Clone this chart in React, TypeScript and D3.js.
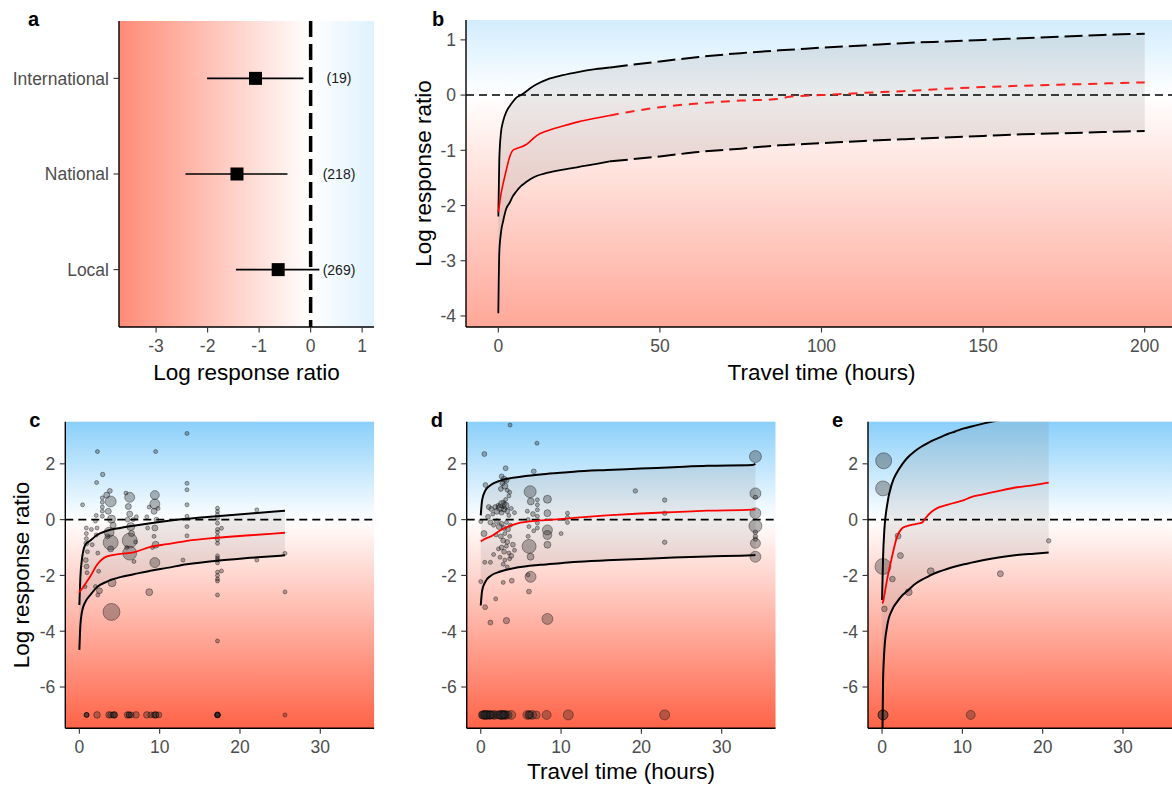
import React from 'react';
import * as d3 from 'd3';

const W = 1172;
const H = 787;
const FONT = "'Liberation Sans', Arial, Helvetica, sans-serif";

// ---------- Panel a: effect by scale ----------
const regionCats = ['International', 'National', 'Local'];
const regionMean = [-1.07, -1.43, -0.63];
const regionLow = [-2.01, -2.43, -1.45];
const regionHigh = [-0.14, -0.45, 0.17];
const regionN = ['(19)', '(218)', '(269)'];
const aXTicks = [-3, -2, -1, 0, 1];

// ---------- Panel b: full model prediction ----------
const bTime = [0, 0.3, 0.8, 1.5, 2.5, 3.5, 4.5, 5.5, 7, 8.5, 10, 12, 15, 20, 25, 30, 34.5, 40, 50, 62, 75, 87, 90, 100, 113, 125, 137, 150, 162, 175, 187, 200];
const bUpper = [-2.2, -1.17, -0.69, -0.47, -0.3, -0.2, -0.12, -0.05, 0.0, 0.06, 0.13, 0.2, 0.28, 0.36, 0.42, 0.47, 0.5, 0.54, 0.61, 0.69, 0.76, 0.81, 0.82, 0.86, 0.9, 0.94, 0.97, 1.0, 1.03, 1.06, 1.09, 1.11];
const bMean = [-2.12, -2.0, -1.8, -1.6, -1.35, -1.12, -1.0, -0.97, -0.94, -0.9, -0.83, -0.73, -0.65, -0.56, -0.48, -0.42, -0.37, -0.31, -0.22, -0.15, -0.1, -0.07, -0.03, 0.0, 0.04, 0.07, 0.11, 0.145, 0.17, 0.19, 0.21, 0.23];
const bLower = [-3.95, -2.86, -2.5, -2.28, -2.05, -1.95, -1.83, -1.75, -1.65, -1.58, -1.52, -1.46, -1.41, -1.35, -1.3, -1.25, -1.2, -1.17, -1.11, -1.03, -0.97, -0.91, -0.9, -0.87, -0.83, -0.8, -0.77, -0.74, -0.71, -0.69, -0.67, -0.65];
const bObservedMax = 34.5;
const bXTicks = [0, 50, 100, 150, 200];
const bYTicks = [-4, -3, -2, -1, 0, 1];

// ---------- Panels c, d, e ----------
const sXTicks = [0, 10, 20, 30];
const sYTicks = [-6, -4, -2, 0, 2];

const cTime = [0, 0.12, 0.33, 0.75, 1.37, 2.2, 3.44, 5.1, 6.76, 8.84, 10.9, 13.4, 17.1, 21.3, 25.6];
const cUpper = [-3.06, -2.1, -1.4, -0.9, -0.75, -0.55, -0.4, -0.3, -0.22, -0.13, -0.05, 0.03, 0.12, 0.22, 0.32];
const cMean = [-2.62, -2.55, -2.48, -2.3, -2.03, -1.62, -1.32, -1.23, -1.17, -0.98, -0.88, -0.76, -0.65, -0.56, -0.47];
const cLower = [-4.67, -3.83, -3.3, -2.95, -2.7, -2.42, -2.22, -2.06, -1.96, -1.83, -1.73, -1.6, -1.47, -1.37, -1.28];
// [travel time, log response ratio, weight]
const cStudies: [number, number, number][] = [
  [0.4, 0.53, 4], [2.25, 2.44, 4], [2.15, 1.33, 4], [2.9, 1.62, 5], [3.8, 1.03, 6], [3.9, 0.65, 30],
  [2.86, 0.78, 4], [2.86, 0.62, 4], [2.86, 0.45, 4], [2.86, 0.3, 4], [2.86, 0.12, 4], [3.4, 0.88, 9],
  [3.6, 0.3, 9], [4.0, 0.02, 16], [4.2, -0.2, 9], [3.7, -0.45, 25], [3.9, -0.82, 56], [3.9, -1.05, 9],
  [3.5, -0.6, 6], [2.1, 0.15, 4], [2.0, -0.05, 4], [2.2, -0.3, 4], [2.1, -0.55, 4], [2.3, -1.2, 4],
  [2.4, -1.85, 4], [2.5, -2.55, 9], [2.3, -2.7, 4], [2.0, -2.4, 4], [0.87, -0.3, 4], [0.87, -0.5, 4],
  [0.87, -0.68, 4], [0.87, -0.85, 6], [0.8, -1.45, 6], [0.9, -1.68, 6], [0.95, -1.9, 4], [1.0, -1.15, 4],
  [0.7, -2.4, 4], [1.5, -0.35, 4], [1.6, -0.9, 4], [6.27, 0.8, 25], [6.1, 0.47, 9], [6.27, 0.2, 9],
  [6.0, 0.0, 6], [6.4, -0.25, 16], [6.27, -0.75, 56], [6.27, -1.2, 49], [6.5, -0.5, 9], [6.7, 0.0, 4],
  [5.8, 0.95, 4], [5.9, -1.0, 4], [7.0, -0.8, 4], [6.8, -1.5, 4], [7.1, 0.1, 4], [8.7, 0.45, 4],
  [8.4, 0.1, 4], [8.5, -0.3, 4], [8.7, -2.6, 12], [9.4, 0.88, 20], [9.4, 0.56, 25], [9.3, 0.3, 9],
  [9.6, 0.0, 6], [9.4, -0.3, 9], [9.5, -0.9, 12], [9.4, -1.54, 25], [9.5, 2.44, 4], [9.3, -0.6, 4],
  [9.8, 0.4, 4], [9.1, -1.0, 4], [13.4, 3.09, 4], [13.4, 1.3, 4], [13.4, 1.07, 4], [13.4, 0.53, 4],
  [13.4, 0.12, 4], [13.4, -0.25, 4], [13.4, -0.58, 4], [12.9, -1.45, 4],
  [17.2, 0.41, 4], [17.2, 0.29, 4], [17.2, 0.18, 4], [17.2, 0.05, 4], [17.2, -0.13, 4], [17.2, -0.35, 4],
  [17.2, -0.45, 4], [17.2, -0.6, 4], [17.2, -0.72, 4], [17.2, -0.85, 4], [17.2, -1.3, 4], [17.2, -1.38, 4],
  [17.2, -1.45, 4], [17.2, -1.55, 4], [17.2, -1.88, 4], [17.2, -2.0, 4], [17.2, -2.13, 4], [17.2, -2.2, 4],
  [17.2, -2.7, 4], [17.2, -4.35, 4], [17.7, -0.31, 4], [17.7, -1.84, 4], [22.1, 0.35, 4], [22.1, -1.45, 4],
  [25.6, -1.21, 4], [25.6, -2.59, 4], [4.0, -3.31, 72], [4.07, -2.26, 16],
  [0.9, -7, 6], [0.9, -7, 6], [0.9, -7, 6], [2.2, -7, 11], [3.7, -7, 11], [3.9, -7, 9], [4.35, -7, 11],
  [4.35, -7, 9], [4.2, -7, 9], [6.0, -7, 11], [6.2, -7, 9], [6.2, -7, 9], [6.45, -7, 9], [7.05, -7, 11],
  [8.4, -7, 11], [8.9, -7, 9], [9.3, -7, 9], [9.5, -7, 11], [9.5, -7, 9], [9.9, -7, 9], [17.2, -7, 9],
  [17.2, -7, 8], [17.2, -7, 6], [17.2, -7, 6], [17.2, -7, 6], [25.6, -7, 4],
];

const dTime = [0, 0.17, 0.58, 1.2, 2.45, 4.5, 7.4, 9.9, 11.6, 15.7, 19.9, 24, 28.2, 33.8, 34.2];
const dUpper = [0.15, 0.7, 1.05, 1.23, 1.4, 1.52, 1.62, 1.68, 1.72, 1.78, 1.83, 1.88, 1.93, 1.96, 2.0];
const dMean = [-0.78, -0.75, -0.68, -0.61, -0.38, -0.14, -0.03, 0.02, 0.06, 0.15, 0.22, 0.27, 0.32, 0.36, 0.37];
const dLower = [-3.08, -2.55, -2.22, -2.02, -1.86, -1.72, -1.62, -1.56, -1.52, -1.46, -1.41, -1.36, -1.32, -1.28, -1.27];
const dStudies: [number, number, number][] = [
  [3.65, 3.39, 4], [7.0, 2.74, 4], [0.45, 2.35, 6], [3.1, 1.84, 6], [6.6, 1.73, 6], [0.58, 1.24, 6],
  [2.6, 1.55, 6], [2.9, 1.45, 9], [3.2, 1.4, 6], [2.7, 1.3, 6], [3.0, 1.2, 9], [2.5, 1.1, 6],
  [3.3, 1.05, 4], [3.6, 0.98, 4], [3.5, 0.85, 4], [3.1, 0.72, 4], [2.8, 0.6, 4],
  [1.0, 0.45, 6], [1.3, 0.38, 6], [0.9, 0.1, 6], [1.5, 0.2, 4], [1.8, 0.45, 6], [2.0, 0.3, 9],
  [2.2, 0.5, 6], [2.4, 0.42, 12], [2.6, 0.25, 6], [2.7, 0.55, 16], [2.9, 0.38, 9], [3.1, 0.5, 12],
  [3.3, 0.3, 6], [3.5, 0.15, 4], [3.8, 0.4, 4], [4.2, 0.25, 4], [1.2, -0.1, 6], [1.6, -0.2, 4],
  [2.0, -0.05, 6], [2.3, -0.25, 9], [2.6, -0.15, 6], [2.9, -0.3, 6], [3.2, -0.1, 4], [3.4, -0.35, 6],
  [3.7, -0.2, 4], [1.9, -0.55, 4], [2.5, -0.6, 6], [2.8, -0.75, 6], [3.0, -0.5, 4], [3.3, -0.8, 6],
  [3.6, -0.6, 4], [4.0, -0.9, 6], [2.2, -1.05, 4], [2.6, -1.0, 6], [2.9, -1.15, 6], [3.2, -0.95, 4],
  [3.5, -1.2, 4], [1.6, -1.25, 4], [2.4, -1.35, 4], [3.0, -1.45, 4], [3.6, -1.4, 4], [2.8, -1.6, 4],
  [3.3, -1.7, 4], [3.8, -1.3, 6], [4.2, -1.1, 4], [0.4, -0.5, 9], [0.0, -0.07, 4], [0.5, -1.53, 4],
  [1.2, -1.53, 4], [0.0, -2.22, 4], [2.8, -2.25, 4], [3.86, -2.19, 6], [5.9, -1.98, 4], [1.86, -2.84, 4],
  [0.55, -3.14, 6], [1.2, -3.69, 6], [3.2, -3.62, 10], [6.0, -2.58, 6], [6.2, -2.05, 30], [8.3, -3.56, 30],
  [6.15, 1.0, 36], [6.23, 0.65, 12], [7.05, 0.71, 4], [7.05, 0.53, 4], [7.05, 0.35, 4], [7.05, 0.12, 4],
  [7.05, -0.12, 4], [7.05, -0.3, 4], [5.8, 0.3, 4], [5.9, 0.0, 4], [6.0, -0.25, 4], [6.5, 0.2, 6],
  [6.6, -0.4, 4], [6.02, -0.96, 49], [6.2, -1.33, 12], [5.9, -0.6, 4], [8.3, 0.73, 16], [8.3, 0.23, 12],
  [8.3, -0.37, 25], [8.3, -0.55, 20], [8.3, -0.9, 12], [10.0, -0.5, 4], [10.8, 0.23, 4], [10.8, 0.08, 4],
  [10.8, -0.1, 4], [19.25, 1.03, 5], [22.9, 0.7, 5], [22.9, 0.23, 5], [22.9, -0.81, 5],
  [34.2, 2.26, 36], [34.2, 0.94, 30], [34.2, 0.8, 5], [34.2, 0.23, 30], [34.2, -0.23, 42], [34.2, -0.45, 5],
  [34.2, -0.6, 5], [34.2, -0.7, 5], [34.2, -0.85, 25], [34.2, -1.33, 30],
  [0.2, -7, 16], [0.45, -7, 20], [0.7, -7, 16], [1.0, -7, 20], [1.3, -7, 16], [1.7, -7, 20],
  [2.1, -7, 16], [2.5, -7, 20], [2.8, -7, 16], [3.1, -7, 20], [3.4, -7, 16], [3.8, -7, 20],
  [0.5, -7, 16], [1.1, -7, 16], [2.7, -7, 16], [3.0, -7, 16], [0.3, -7, 16], [0.8, -7, 16],
  [1.5, -7, 16], [2.3, -7, 16], [2.9, -7, 16], [0.6, -7, 20], [1.2, -7, 16], [2.6, -7, 20],
  [5.8, -7, 20], [6.1, -7, 16], [6.0, -7, 16], [6.4, -7, 20], [6.9, -7, 16], [8.2, -7, 20],
  [10.9, -7, 25], [22.9, -7, 25],
];

const eTime = [0, 0.12, 0.29, 0.62, 1.24, 1.87, 2.5, 3.1, 4.15, 4.98, 5.4, 6.2, 7.05, 8.1, 9.1, 10.2, 11, 12.7, 14.7, 16.8, 18.9, 20.75];
const eUpper = [-2.88, -1.4, -0.35, 0.5, 1.3, 1.7, 1.98, 2.2, 2.47, 2.63, 2.7, 2.82, 2.93, 3.06, 3.16, 3.27, 3.33, 3.45, 3.57, 3.68, 3.78, 3.86];
const eMean = [-3.0, -2.95, -2.7, -2.16, -1.33, -0.61, -0.31, -0.23, -0.16, -0.11, 0.05, 0.29, 0.44, 0.53, 0.61, 0.7, 0.8, 0.91, 1.04, 1.16, 1.24, 1.33];
const eLower = [-9.0, -5.87, -4.67, -3.84, -3.24, -2.95, -2.72, -2.57, -2.3, -2.15, -2.09, -1.97, -1.87, -1.77, -1.68, -1.6, -1.55, -1.45, -1.35, -1.27, -1.22, -1.18];
const eStudies: [number, number, number][] = [
  [0.2, 2.11, 64], [0.12, 1.12, 56], [0.12, -1.68, 64], [1.99, -0.59, 9], [2.28, -1.29, 9],
  [1.29, -2.13, 8], [0.29, -3.2, 8], [3.32, -2.6, 12], [6.06, -1.85, 12], [14.73, -1.94, 9],
  [20.75, -0.76, 5], [0.12, -7, 25], [0.12, -7, 25], [11.04, -7, 20],
];

// ---------- styling helpers ----------
const RED = '#ff6347';
const WHITE = '#ffffff';
const BLUE = '#87cefa';

const sizeScale = d3.scaleSqrt().domain([0, 100]).range([0, 10]);

type Box = { x0: number; x1: number; y0: number; y1: number };

function VGradient({ id, y, R, B }: { id: string; y: d3.ScaleLinear<number, number>; R: number; B: number }) {
  const p1 = y(-R), p2 = y(B), p0 = y(0);
  const off = (p0 - p1) / (p2 - p1);
  return (
    <linearGradient id={id} gradientUnits="userSpaceOnUse" x1={0} x2={0} y1={p1} y2={p2}>
      <stop offset={0} stopColor={RED} />
      <stop offset={off} stopColor={WHITE} />
      <stop offset={1} stopColor={BLUE} />
    </linearGradient>
  );
}

function HGradient({ id, x, R, B }: { id: string; x: d3.ScaleLinear<number, number>; R: number; B: number }) {
  const p1 = x(-R), p2 = x(B), p0 = x(0);
  const off = (p0 - p1) / (p2 - p1);
  return (
    <linearGradient id={id} gradientUnits="userSpaceOnUse" x1={p1} x2={p2} y1={0} y2={0}>
      <stop offset={0} stopColor={RED} />
      <stop offset={off} stopColor={WHITE} />
      <stop offset={1} stopColor={BLUE} />
    </linearGradient>
  );
}

const TICK_FS = 17.5;
const TITLE_FS = 22.5;
const TICK_COL = '#4d4d4d';

function XAxis({ box, x, ticks }: { box: Box; x: d3.ScaleLinear<number, number>; ticks: number[] }) {
  return (
    <g>
      <line x1={box.x0} x2={box.x1} y1={box.y1} y2={box.y1} stroke="#000" strokeWidth={1.4} />
      {ticks.map((t) => (
        <g key={t}>
          <line x1={x(t)} x2={x(t)} y1={box.y1} y2={box.y1 + 5.5} stroke="#333" strokeWidth={1.1} />
          <text x={x(t)} y={box.y1 + 25} textAnchor="middle" fontSize={TICK_FS} fill={TICK_COL} fontFamily={FONT}>
            {String(t)}
          </text>
        </g>
      ))}
    </g>
  );
}

function YAxis({ box, y, ticks, labels }: { box: Box; y: (v: any) => number; ticks: any[]; labels?: string[] }) {
  return (
    <g>
      <line x1={box.x0} x2={box.x0} y1={box.y0} y2={box.y1} stroke="#000" strokeWidth={1.4} />
      {ticks.map((t, i) => (
        <g key={String(t)}>
          <line x1={box.x0 - 5.5} x2={box.x0} y1={y(t)} y2={y(t)} stroke="#333" strokeWidth={1.1} />
          <text x={box.x0 - 10} y={y(t)} dy="0.36em" textAnchor="end" fontSize={TICK_FS} fill={TICK_COL} fontFamily={FONT}>
            {labels ? labels[i] : String(t)}
          </text>
        </g>
      ))}
    </g>
  );
}

function PanelLabel({ x, y, s }: { x: number; y: number; s: string }) {
  return (
    <text x={x} y={y} fontSize={20} fontWeight="bold" fontFamily={FONT} fill="#000">
      {s}
    </text>
  );
}

const ZERO_DASH = '8,5';

// ---------- Panel a ----------
function PanelA() {
  const box: Box = { x0: 119, x1: 374, y0: 21, y1: 327 };
  const x = d3.scaleLinear().domain([-3.72, 1.23]).range([box.x0, box.x1]);
  const y = d3.scalePoint<string>().domain(regionCats).range([box.y0, box.y1]).padding(0.6);
  return (
    <g>
      <defs>
        <HGradient id="gA" x={x} R={5} B={4.5} />
      </defs>
      <rect x={box.x0} y={box.y0} width={box.x1 - box.x0} height={box.y1 - box.y0} fill="url(#gA)" />
      <line x1={x(0)} x2={x(0)} y1={box.y0} y2={box.y1} stroke="#000" strokeWidth={3.5} strokeDasharray="16,7" />
      {regionCats.map((c, i) => {
        const cy = y(c) as number;
        return (
          <g key={c}>
            <line x1={x(regionLow[i])} x2={x(regionHigh[i])} y1={cy} y2={cy} stroke="#000" strokeWidth={1.6} />
            <rect x={x(regionMean[i]) - 6.5} y={cy - 6.5} width={13} height={13} fill="#000" />
            <text x={339} y={cy} dy="0.35em" textAnchor="middle" fontSize={14} fontFamily={FONT} fill="#1a1a1a">
              {regionN[i]}
            </text>
          </g>
        );
      })}
      <YAxis box={box} y={(c: string) => y(c) as number} ticks={regionCats} />
      <XAxis box={box} x={x} ticks={aXTicks} />
      <text x={(box.x0 + box.x1) / 2} y={379.5} textAnchor="middle" fontSize={TITLE_FS} fontFamily={FONT} fill="#000">
        Log response ratio
      </text>
      <PanelLabel x={28} y={25.5} s="a" />
    </g>
  );
}

// ---------- Panel b ----------
function PanelB() {
  const box: Box = { x0: 466, x1: 1177, y0: 20, y1: 327 };
  const x = d3.scaleLinear().domain([-10, 210]).range([box.x0, box.x1]);
  const y = d3.scaleLinear().domain([-4.2, 1.36]).range([box.y1, box.y0]);
  const idx = bTime.map((_, i) => i);
  const solid = idx.filter((i) => bTime[i] <= bObservedMax);
  const dashed = idx.filter((i) => bTime[i] >= bObservedMax);
  const line = (vals: number[]) =>
    d3.line<number>().x((i) => x(bTime[i])).y((i) => y(vals[i])).curve(d3.curveMonotoneX);
  const area = d3
    .area<number>()
    .x((i) => x(bTime[i]))
    .y0((i) => y(bLower[i]))
    .y1((i) => y(bUpper[i]))
    .curve(d3.curveMonotoneX);
  return (
    <g>
      <defs>
        <VGradient id="gB" y={y} R={7.5} B={3.6} />
        <clipPath id="cB">
          <rect x={box.x0} y={box.y0} width={box.x1 - box.x0} height={box.y1 - box.y0} />
        </clipPath>
      </defs>
      <rect x={box.x0} y={box.y0} width={box.x1 - box.x0} height={box.y1 - box.y0} fill="url(#gB)" />
      <g clipPath="url(#cB)">
        <path d={area(idx) || ''} fill="#7a7a7a" fillOpacity={0.16} />
        <line x1={box.x0} x2={box.x1} y1={y(0)} y2={y(0)} stroke="#000" strokeWidth={1.5} strokeDasharray={ZERO_DASH} />
        <path d={line(bUpper)(solid) || ''} fill="none" stroke="#000" strokeWidth={1.8} />
        <path d={line(bLower)(solid) || ''} fill="none" stroke="#000" strokeWidth={1.8} />
        <path d={line(bUpper)(dashed) || ''} fill="none" stroke="#000" strokeWidth={2} strokeDasharray="18,6" />
        <path d={line(bLower)(dashed) || ''} fill="none" stroke="#000" strokeWidth={2} strokeDasharray="18,6" />
        <path d={line(bMean)(solid) || ''} fill="none" stroke="#ff0000" strokeWidth={1.6} />
        <path d={line(bMean)(dashed) || ''} fill="none" stroke="#ff2020" strokeWidth={2} strokeDasharray="9,7" />
      </g>
      <YAxis box={box} y={y} ticks={bYTicks} />
      <XAxis box={box} x={x} ticks={bXTicks} />
      <text x={(box.x0 + box.x1) / 2} y={379.5} textAnchor="middle" fontSize={TITLE_FS} fontFamily={FONT} fill="#000">
        Travel time (hours)
      </text>
      <text
        transform={`translate(431,${(box.y0 + box.y1) / 2}) rotate(-90)`}
        textAnchor="middle"
        fontSize={TITLE_FS}
        fontFamily={FONT}
        fill="#000"
      >
        Log response ratio
      </text>
      <PanelLabel x={432} y={25.5} s="b" />
    </g>
  );
}

// ---------- Panels c, d, e ----------
function ScatterPanel({
  id,
  x0,
  label,
  time,
  upper,
  mean,
  lower,
  studies,
  yTitle,
  xTitle,
}: {
  id: string;
  x0: number;
  label: string;
  time: number[];
  upper: number[];
  mean: number[];
  lower: number[];
  studies: [number, number, number][];
  yTitle?: boolean;
  xTitle?: boolean;
}) {
  const box: Box = { x0, x1: x0 + 308.8, y0: 421.7, y1: 728.3 };
  const x = d3.scaleLinear().domain([-1.75, 36.7]).range([box.x0, box.x1]);
  const y = d3.scaleLinear().domain([-7.48, 3.51]).range([box.y1, box.y0]);
  const idx = time.map((_, i) => i);
  const line = (vals: number[]) =>
    d3.line<number>().x((i) => x(time[i])).y((i) => y(vals[i])).curve(d3.curveMonotoneX);
  const area = d3
    .area<number>()
    .x((i) => x(time[i]))
    .y0((i) => y(lower[i]))
    .y1((i) => y(upper[i]))
    .curve(d3.curveMonotoneX);
  return (
    <g>
      <defs>
        <VGradient id={`g${id}`} y={y} R={7.5} B={3.6} />
        <clipPath id={`c${id}`}>
          <rect x={box.x0} y={box.y0} width={box.x1 - box.x0} height={box.y1 - box.y0} />
        </clipPath>
      </defs>
      <rect x={box.x0} y={box.y0} width={box.x1 - box.x0} height={box.y1 - box.y0} fill={`url(#g${id})`} />
      <g clipPath={`url(#c${id})`}>
        <path d={area(idx) || ''} fill="#7a7a7a" fillOpacity={0.15} />
        {studies.map((s, i) => (
          <circle
            key={i}
            cx={x(s[0])}
            cy={y(s[1])}
            r={sizeScale(s[2])}
            fill="#262626"
            fillOpacity={0.34}
            stroke="#000"
            strokeOpacity={0.45}
            strokeWidth={0.8}
          />
        ))}
        <line x1={box.x0} x2={box.x1} y1={y(0)} y2={y(0)} stroke="#000" strokeWidth={1.6} strokeDasharray={ZERO_DASH} />
        <path d={line(upper)(idx) || ''} fill="none" stroke="#000" strokeWidth={2} />
        <path d={line(lower)(idx) || ''} fill="none" stroke="#000" strokeWidth={2} />
        <path d={line(mean)(idx) || ''} fill="none" stroke="#ff0000" strokeWidth={1.8} />
      </g>
      <YAxis box={box} y={y} ticks={sYTicks} />
      <XAxis box={box} x={x} ticks={sXTicks} />
      {yTitle && (
        <text
          transform={`translate(28.7,${(box.y0 + box.y1) / 2}) rotate(-90)`}
          textAnchor="middle"
          fontSize={TITLE_FS}
          fontFamily={FONT}
          fill="#000"
        >
          Log response ratio
        </text>
      )}
      {xTitle && (
        <text x={(box.x0 + box.x1) / 2} y={779} textAnchor="middle" fontSize={TITLE_FS} fontFamily={FONT} fill="#000">
          Travel time (hours)
        </text>
      )}
      <PanelLabel x={x0 - 36} y={426.7} s={label} />
    </g>
  );
}

export default function App() {
  return (
    <div style={{ position: 'absolute', left: 0, top: 0, width: W, height: H, overflow: 'hidden', background: '#fff' }}>
      <svg width={W} height={H} viewBox={`0 0 ${W} ${H}`} style={{ display: 'block' }}>
        <rect x={0} y={0} width={W} height={H} fill="#fff" />
        <PanelA />
        <PanelB />
        <ScatterPanel id="C" x0={65.3} label="c" time={cTime} upper={cUpper} mean={cMean} lower={cLower} studies={cStudies} yTitle />
        <ScatterPanel id="D" x0={466.7} label="d" time={dTime} upper={dUpper} mean={dMean} lower={dLower} studies={dStudies} xTitle />
        <ScatterPanel id="E" x0={868} label="e" time={eTime} upper={eUpper} mean={eMean} lower={eLower} studies={eStudies} />
      </svg>
    </div>
  );
}
